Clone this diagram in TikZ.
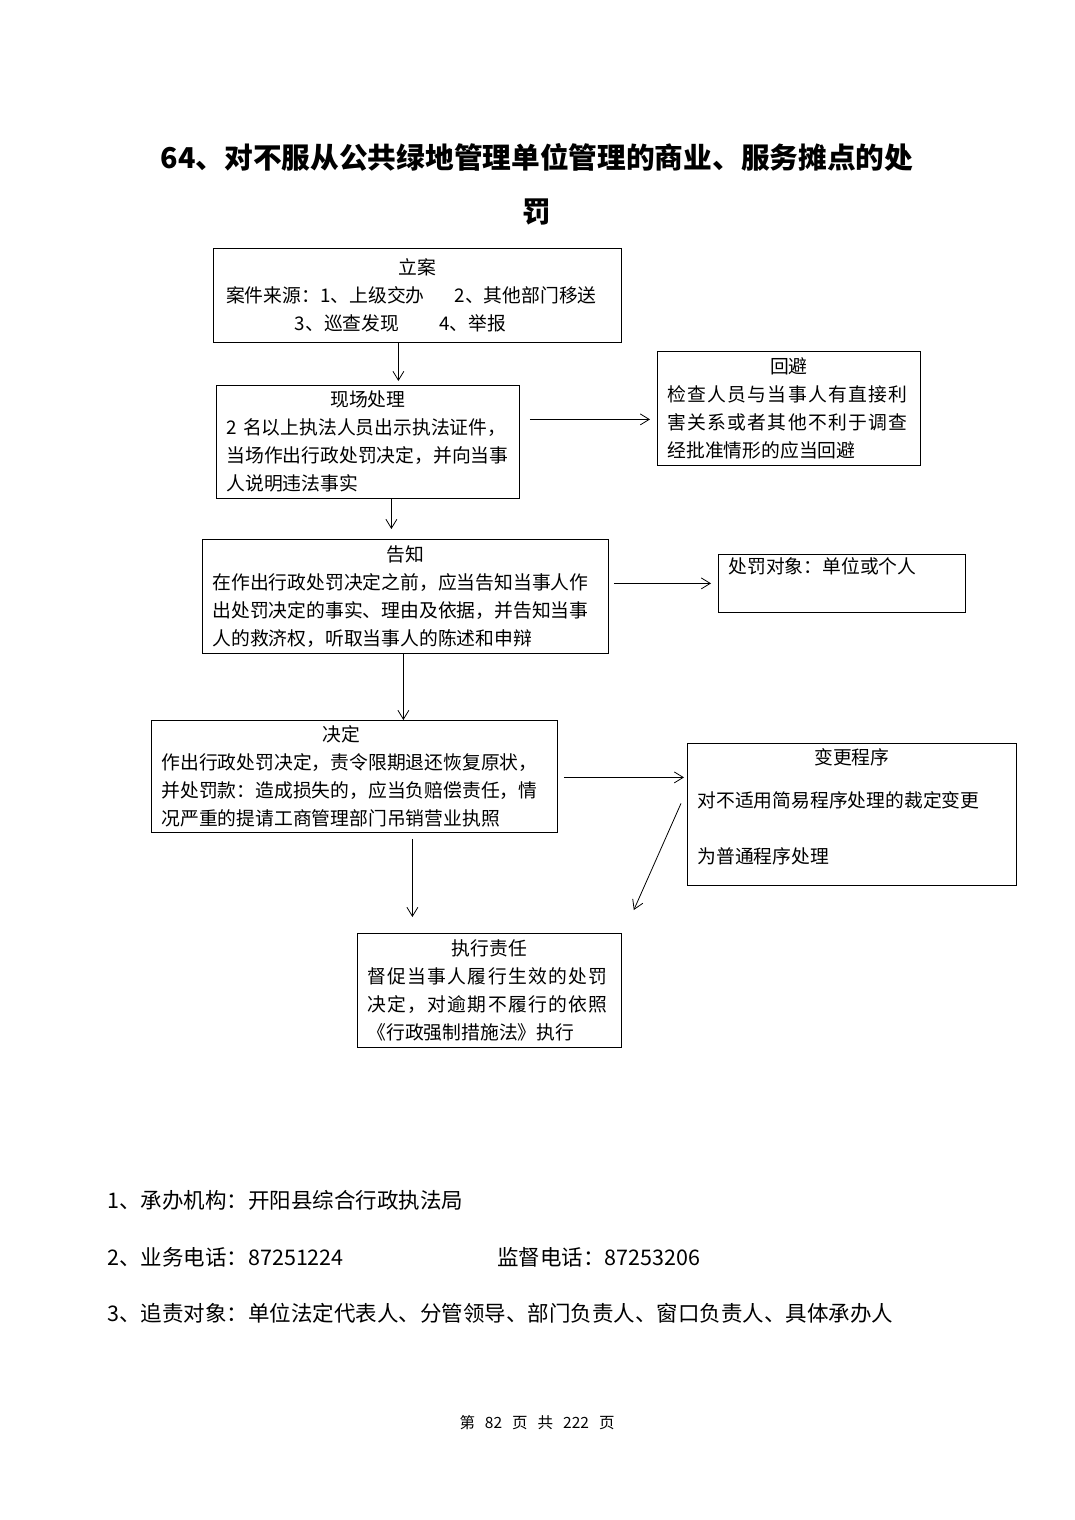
\documentclass[tikz,border=0pt]{standalone}
\usepackage{fontspec}
\setmainfont{Noto Sans CJK SC}
\usetikzlibrary{arrows.meta}
\newcommand\boxhead[2][0pt]{\makebox[\hsize]{#2}\\[#1]}
\newcommand\wideline[1]{{\addfontfeature{LetterSpace=7}#1}}

\begin{document}
\begin{tikzpicture}[x=1pt, y=-1pt,
  font=\fontsize{18.8}{28}\selectfont,
  stage/.style={draw, anchor=north west, align=left,
                inner xsep=10pt, inner ysep=2pt},
  headline/.style={font=\fontsize{28.7}{34}\selectfont\bfseries},
  noteline/.style={anchor=west, inner sep=0pt, font=\fontsize{21.5}{26}\selectfont},
  >={Straight Barb[length=9pt,width=11pt]}, line width=0.8pt
]
\useasboundingbox (0,0) rectangle (1074,1520);
\node[headline] (title1) at (537,157) {64、对不服从公共绿地管理单位管理的商业、服务摊点的处};
\node[headline] (title2) at (537,212) {罚};
\node[stage, align=center, minimum width=408pt, minimum height=94pt] (lian) at (213,248)
  {立案\\案件来源：1、上级交办\hspace{30pt}2、其他部门移送\hspace{12pt}\mbox{}\\
   3、巡查发现\hspace{40pt}4、举报\hspace{34pt}\mbox{}};
\node[stage, text width=283pt, minimum height=113pt] (xc) at (216,385)
  {\boxhead{现场处理}2 名以上执法人员出示执法证件，\\当场作出行政处罚决定，并向当事\\人说明违法事实};
\node[stage, text width=243pt, minimum height=114pt] (huibi) at (657,351)
  {\boxhead{回避}\wideline{检查人员与当事人有直接利}\\\wideline{害关系或者其他不利于调查}\\经批准情形的应当回避};
\node[stage, text width=386pt, minimum height=114pt] (gaozhi) at (202,539)
  {\boxhead{告知}在作出行政处罚决定之前，应当告知当事人作\\出处罚决定的事实、理由及依据，并告知当事\\人的救济权，听取当事人的陈述和申辩};
\node[stage, text width=227pt, minimum height=58pt] (chufa) at (718,554)
  {处罚对象：单位或个人\\\strut};
\node[stage, text width=386pt, minimum height=112pt] (jueding) at (151,720)
  {\boxhead{决定\hspace{26pt}}作出行政处罚决定，责令限期退还恢复原状，\\并处罚款：造成损失的，应当负赔偿责任，情\\况严重的提请工商管理部门吊销营业执照};
\node[stage, text width=309pt, minimum height=142pt] (biangeng) at (687,743)
  {\boxhead[15pt]{变更程序}对不适用简易程序处理的裁定变更\\[28pt]为普通程序处理\\[-12pt]\mbox{}};
\node[stage, text width=244pt, minimum height=114pt] (zhixing) at (357,933)
  {\boxhead{执行责任}\wideline{督促当事人履行生效的处罚}\\\wideline{决定，对逾期不履行的依照}\\《行政强制措施法》执行};
\node[noteline] (note1) at (107,1200) {1、承办机构：开阳县综合行政执法局};
\node[noteline] (note2) at (107,1257) {2、业务电话：87251224};
\node[noteline] (note2b) at (497,1257) {监督电话：87253206};
\node[noteline] (note3) at (107,1313) {3、追责对象：单位法定代表人、分管领导、部门负责人、窗口负责人、具体承办人};
\node[font=\fontsize{15.5}{18}\selectfont] (page) at (537,1423)
  {第\hspace{10pt}82\hspace{10pt}页\hspace{10pt}共\hspace{10pt}222\hspace{10pt}页};
\draw[->, shorten >=4pt] ([xshift=-19pt]lian.south) -- ([xshift=-19pt]lian.south |- xc.north);
\draw[->, shorten >=10pt] ([xshift=23.5pt]xc.south) -- ([xshift=23.5pt]xc.south |- gaozhi.north);
\draw[->, shorten <=10pt, shorten >=7pt] ([yshift=22.5pt]xc.east) -- ([yshift=22.5pt]xc.east -| huibi.west);
\draw[->, shorten <=5pt, shorten >=7pt] ([yshift=13pt]gaozhi.east) -- ([yshift=13pt]gaozhi.east -| chufa.west);
\draw[->] ([xshift=-2pt]gaozhi.south) -- ([xshift=-2pt]gaozhi.south |- jueding.north);
\draw[->, shorten <=6pt, shorten >=3pt] ([yshift=-1pt]jueding.east) -- ([yshift=-1pt]jueding.east -| biangeng.west);
\draw[->, shorten <=6pt, shorten >=16pt] ([xshift=58pt]jueding.south) -- ([xshift=58pt]jueding.south |- zhixing.north);
\draw[->] ([xshift=-6pt,yshift=11pt]biangeng.west) -- ([xshift=12pt,yshift=23pt]zhixing.north east);
\end{tikzpicture}
\end{document}
